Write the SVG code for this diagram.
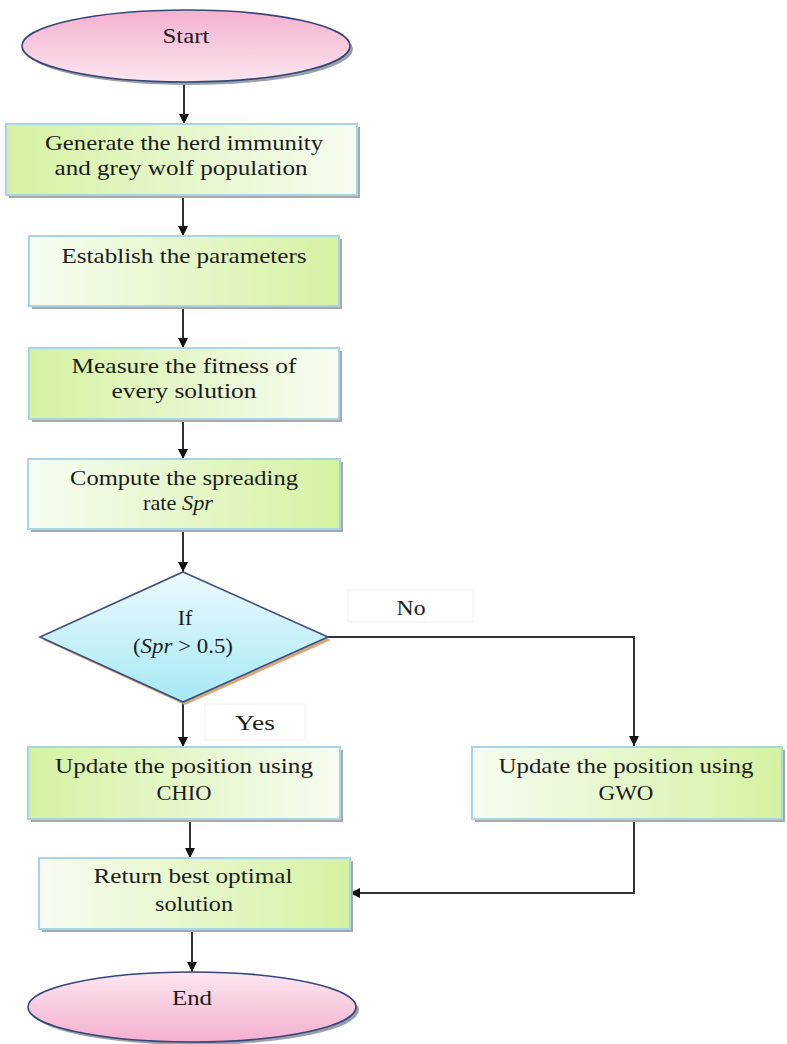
<svg xmlns="http://www.w3.org/2000/svg" width="787" height="1044" viewBox="0 0 787 1044">
<defs>
<linearGradient id="gL" x1="0" y1="0" x2="1" y2="0"><stop offset="0" stop-color="#d5f2a2"/><stop offset="1" stop-color="#f6fcf2"/></linearGradient>
<linearGradient id="gR" x1="0" y1="0" x2="1" y2="0"><stop offset="0" stop-color="#f6fcf2"/><stop offset="1" stop-color="#d5f2a2"/></linearGradient>
<linearGradient id="pinkTop" x1="0" y1="0" x2="0" y2="1"><stop offset="0" stop-color="#f4b0cf"/><stop offset="1" stop-color="#fce6f0"/></linearGradient>
<linearGradient id="pinkBot" x1="0" y1="0" x2="0" y2="1"><stop offset="0" stop-color="#fce6f0"/><stop offset="1" stop-color="#f4b0cf"/></linearGradient>
<linearGradient id="cyan" x1="0" y1="0" x2="0" y2="1"><stop offset="0" stop-color="#ecfafd"/><stop offset="1" stop-color="#a6e8f4"/></linearGradient>
<marker id="ah" viewBox="0 0 10 10" refX="10" refY="5" markerWidth="10" markerHeight="10" markerUnits="userSpaceOnUse" orient="auto"><path d="M0,0 L10,5 L0,10 z" fill="#111"/></marker>
</defs>
<style>
.box{stroke:#a8d4e6;stroke-width:2}
.sh{fill:#a9a9a9}
.ell{stroke:#34467a;stroke-width:1.6}
.t{font-family:"Liberation Serif","Times New Roman",serif;font-size:22px;fill:#1c1c1c;text-anchor:middle}
.c{fill:none;stroke:#333;stroke-width:2;marker-end:url(#ah)}
.lbl{fill:#fff;stroke:#f0f0f0;stroke-width:1}
</style>
<g id="connectors">
<line class="c" x1="184" y1="82" x2="184" y2="124"/>
<line class="c" x1="183" y1="196" x2="183" y2="236"/>
<line class="c" x1="183" y1="307" x2="183" y2="348"/>
<line class="c" x1="183" y1="420" x2="183" y2="459"/>
<line class="c" x1="183" y1="530" x2="183" y2="572"/>
<line class="c" x1="183" y1="702" x2="183" y2="747"/>
<polyline class="c" points="328,637 634,637 634,746"/>
<line class="c" x1="190" y1="820" x2="190" y2="858"/>
<polyline class="c" points="634,820 634,893 350,893"/>
<line class="c" x1="192" y1="930" x2="192" y2="972"/>
</g>
<g id="label-no"><rect class="lbl" x="348" y="590" width="125" height="32"/><text class="t" x="411" y="615" textLength="29" lengthAdjust="spacingAndGlyphs">No</text></g>
<g id="label-yes"><rect class="lbl" x="205" y="704" width="100" height="36"/><text class="t" x="255" y="730" textLength="40" lengthAdjust="spacingAndGlyphs">Yes</text></g>
<g id="start">
<ellipse cx="189" cy="49" rx="164" ry="36" fill="#9aa0a8"/>
<ellipse class="ell" cx="186" cy="46" rx="164" ry="36" fill="url(#pinkTop)"/>
<text class="t" x="186" y="43" textLength="47" lengthAdjust="spacingAndGlyphs">Start</text>
</g>
<g id="generate">
<rect class="sh" x="9" y="127" width="351" height="71"/>
<rect class="box" x="6" y="124" width="351" height="71" fill="url(#gL)"/>
<text class="t" x="184" y="150" textLength="278" lengthAdjust="spacingAndGlyphs">Generate the herd immunity</text>
<text class="t" x="181" y="175" textLength="253" lengthAdjust="spacingAndGlyphs">and grey wolf population</text>
</g>
<g id="establish">
<rect class="sh" x="32" y="239" width="310" height="70"/>
<rect class="box" x="29" y="236" width="310" height="70" fill="url(#gR)"/>
<text class="t" x="184" y="263" textLength="245" lengthAdjust="spacingAndGlyphs">Establish the parameters</text>
</g>
<g id="measure">
<rect class="sh" x="32" y="351" width="310" height="71"/>
<rect class="box" x="29" y="348" width="310" height="71" fill="url(#gL)"/>
<text class="t" x="184" y="373" textLength="225" lengthAdjust="spacingAndGlyphs">Measure the fitness of</text>
<text class="t" x="184" y="398" textLength="145" lengthAdjust="spacingAndGlyphs">every solution</text>
</g>
<g id="compute">
<rect class="sh" x="31" y="462" width="312" height="70"/>
<rect class="box" x="28" y="459" width="312" height="70" fill="url(#gR)"/>
<text class="t" x="184" y="485" textLength="228" lengthAdjust="spacingAndGlyphs">Compute the spreading</text>
<text class="t" x="178" y="510" textLength="70" lengthAdjust="spacingAndGlyphs">rate <tspan font-style="italic">Spr</tspan></text>
</g>
<g id="decision">
<polygon points="185,575 331,640 185,705 43,640" fill="#d9a77c"/>
<polygon points="183,572 328,637 183,702 40,637" fill="url(#cyan)" stroke="#3e4f7e" stroke-width="1.6"/>
<text class="t" x="185" y="625">If</text>
<text class="t" x="183" y="653" font-size="19" fill="#333a4a" textLength="100" lengthAdjust="spacingAndGlyphs">(<tspan font-style="italic">Spr</tspan> &gt; 0.5)</text>
</g>
<g id="chio">
<rect class="sh" x="31" y="750" width="312" height="72"/>
<rect class="box" x="28" y="747" width="312" height="72" fill="url(#gL)"/>
<text class="t" x="184" y="773" textLength="258" lengthAdjust="spacingAndGlyphs">Update the position using</text>
<text class="t" x="184" y="800" textLength="55" lengthAdjust="spacingAndGlyphs">CHIO</text>
</g>
<g id="gwo">
<rect class="sh" x="475" y="750" width="310" height="72"/>
<rect class="box" x="472" y="747" width="310" height="72" fill="url(#gR)"/>
<text class="t" x="626" y="773" textLength="255" lengthAdjust="spacingAndGlyphs">Update the position using</text>
<text class="t" x="626" y="800" textLength="55" lengthAdjust="spacingAndGlyphs">GWO</text>
</g>
<g id="return">
<rect class="sh" x="42" y="861" width="311" height="71"/>
<rect class="box" x="39" y="858" width="311" height="71" fill="url(#gR)"/>
<text class="t" x="193" y="883" textLength="199" lengthAdjust="spacingAndGlyphs">Return best optimal</text>
<text class="t" x="194" y="911" textLength="78" lengthAdjust="spacingAndGlyphs">solution</text>
</g>
<g id="end">
<ellipse cx="195" cy="1010" rx="164" ry="35" fill="#9aa0a8"/>
<ellipse class="ell" cx="192" cy="1007" rx="164" ry="35" fill="url(#pinkBot)"/>
<text class="t" x="192" y="1005" textLength="40" lengthAdjust="spacingAndGlyphs">End</text>
</g>
</svg>
